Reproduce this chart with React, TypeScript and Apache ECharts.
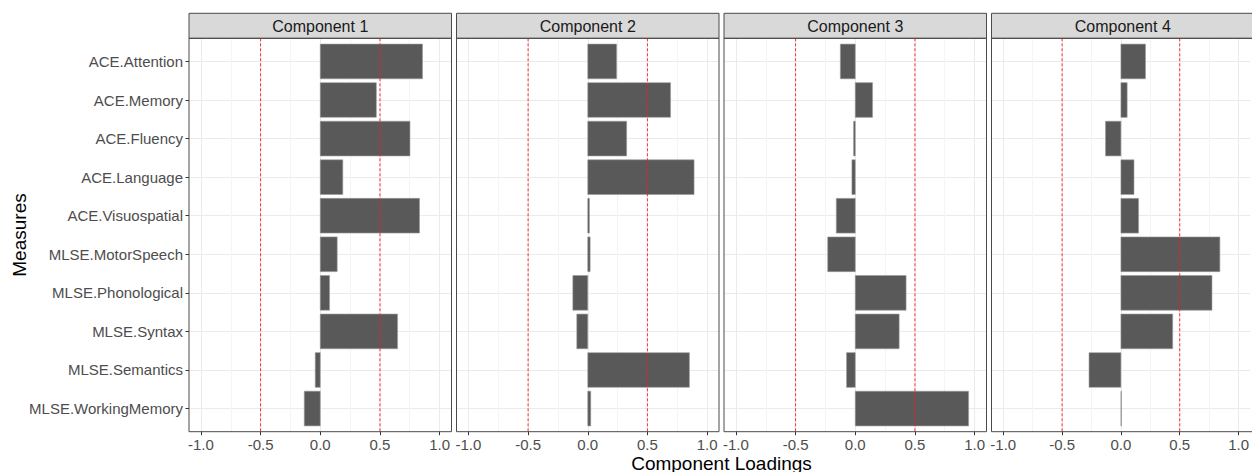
import React, { useEffect, useRef } from 'react';
import * as echarts from 'echarts';

const measures = [
  'ACE.Attention',
  'ACE.Memory',
  'ACE.Fluency',
  'ACE.Language',
  'ACE.Visuospatial',
  'MLSE.MotorSpeech',
  'MLSE.Phonological',
  'MLSE.Syntax',
  'MLSE.Semantics',
  'MLSE.WorkingMemory',
];
const components = ['Component 1', 'Component 2', 'Component 3', 'Component 4'];
const comp1 = [0.857, 0.47, 0.752, 0.189, 0.832, 0.142, 0.078, 0.648, -0.042, -0.134];
const comp2 = [0.242, 0.694, 0.326, 0.891, 0.014, 0.02, -0.125, -0.092, 0.852, 0.025];
const comp3 = [-0.125, 0.145, -0.014, -0.028, -0.159, -0.231, 0.426, 0.368, -0.073, 0.95];
const comp4 = [0.209, 0.053, -0.131, 0.111, 0.15, 0.841, 0.774, 0.44, -0.271, 0.004];
const loadings = [comp1, comp2, comp3, comp4];
const thresholds = [-0.5, 0.5];
const xTicks = [-1, -0.5, 0, 0.5, 1];
const xTitle = 'Component Loadings';
const yTitle = 'Measures';

const FONT = '"Liberation Sans", Arial, Helvetica, sans-serif';
const PANEL_LEFT = [189, 456.5, 724, 991.5];
const PANEL_W = 262.5;
const PLOT_TOP = 38.3;
const PLOT_H = 393.4;
const STRIP_TOP = 13.3;
const STRIP_H = 25;

export default function App() {
  const ref = useRef<HTMLDivElement>(null);

  useEffect(() => {
    if (!ref.current) return;
    const chart = echarts.init(ref.current, undefined, { renderer: 'svg' });
    const idx = measures.map((_, i) => i);
    const yMin = -0.6;
    const yMax = measures.length - 1 + 0.6;

    const grids = components.map((_, i) => ({
      left: PANEL_LEFT[i],
      top: PLOT_TOP,
      width: PANEL_W,
      height: PLOT_H,
      containLabel: false,
      show: true,
      backgroundColor: '#ffffff',
      borderWidth: 0,
    }));

    const xAxes = components.map((_, i) => ({
      type: 'value',
      gridIndex: i,
      position: 'bottom',
      min: -1.1,
      max: 1.1,
      axisLine: { show: false, onZero: false },
      axisTick: {
        show: true,
        length: 3.5,
        customValues: xTicks,
        lineStyle: { color: '#333333', width: 1 },
      },
      axisLabel: {
        customValues: xTicks,
        formatter: (v: number) => v.toFixed(1),
        color: '#4d4d4d',
        fontSize: 15,
        fontFamily: FONT,
        margin: 5,
      },
      splitLine: { show: true, lineStyle: { color: '#ebebeb', width: 1 } },
      minorTick: { show: false, splitNumber: 2 },
      minorSplitLine: { show: true, lineStyle: { color: '#f4f4f4', width: 1 } },
    }));

    const yAxes = components.map((_, i) => ({
      type: 'value',
      gridIndex: i,
      position: 'left',
      min: yMin,
      max: yMax,
      inverse: true,
      splitNumber: 10,
      axisLine: { show: false, onZero: false },
      axisTick: {
        show: i === 0,
        length: 3.5,
        customValues: idx,
        lineStyle: { color: '#333333', width: 1 },
      },
      axisLabel: {
        show: i === 0,
        customValues: idx,
        formatter: (v: number) => measures[v] ?? '',
        color: '#4d4d4d',
        fontSize: 15,
        fontFamily: FONT,
        margin: 6,
      },
      splitLine: { show: true, lineStyle: { color: '#ebebeb', width: 1 } },
    }));

    const barSeries = components.map((_, i) => ({
      type: 'custom',
      xAxisIndex: i,
      yAxisIndex: i,
      z: 2,
      encode: { x: 0, y: 1 },
      data: loadings[i].map((v, j) => [v, j]),
      renderItem: (params: any, api: any) => {
        const v = api.value(0);
        const j = api.value(1);
        const p0 = api.coord([0, j - 0.45]);
        const p1 = api.coord([v, j + 0.45]);
        return {
          type: 'rect',
          shape: {
            x: Math.min(p0[0], p1[0]),
            y: Math.min(p0[1], p1[1]),
            width: Math.max(Math.abs(p1[0] - p0[0]), 0.5),
            height: Math.abs(p1[1] - p0[1]),
          },
          style: { fill: '#595959', stroke: '#9c9c9c', lineWidth: 0.6 },
        };
      },
    }));

    const lineSeries = components.map((_, i) => ({
      type: 'custom',
      xAxisIndex: i,
      yAxisIndex: i,
      z: 3,
      encode: { x: 0, y: 1 },
      data: thresholds.map((t) => [t, 0]),
      renderItem: (params: any, api: any) => {
        const t = api.value(0);
        const a = api.coord([t, yMin]);
        const b = api.coord([t, yMax]);
        return {
          type: 'line',
          shape: { x1: a[0], y1: a[1], x2: b[0], y2: b[1] },
          style: { stroke: '#ff1a1a', lineWidth: 1, lineDash: [3, 2], opacity: 0.9 },
        };
      },
    }));

    const graphics: any[] = [];
    components.forEach((name, i) => {
      graphics.push({
        type: 'rect',
        z: 100,
        shape: { x: PANEL_LEFT[i], y: STRIP_TOP, width: PANEL_W, height: STRIP_H },
        style: { fill: '#d9d9d9', stroke: '#4a4a4a', lineWidth: 1 },
      });
      graphics.push({
        type: 'text',
        z: 101,
        x: PANEL_LEFT[i] + PANEL_W / 2,
        y: STRIP_TOP + STRIP_H / 2 + 0.5,
        style: {
          text: name,
          fill: '#1a1a1a',
          fontSize: 16,
          fontFamily: FONT,
          align: 'center',
          verticalAlign: 'middle',
        },
      });
      graphics.push({
        type: 'rect',
        z: 100,
        shape: { x: PANEL_LEFT[i], y: PLOT_TOP, width: PANEL_W, height: PLOT_H },
        style: { fill: 'none', stroke: '#4a4a4a', lineWidth: 1 },
      });
    });
    graphics.push({
      type: 'text',
      z: 101,
      x: (PANEL_LEFT[0] + PANEL_LEFT[3] + PANEL_W) / 2,
      y: 463,
      style: {
        text: xTitle,
        fill: '#000000',
        fontSize: 19,
        fontFamily: FONT,
        align: 'center',
        verticalAlign: 'middle',
      },
    });
    graphics.push({
      type: 'text',
      z: 101,
      x: 19,
      y: PLOT_TOP + PLOT_H / 2,
      rotation: Math.PI / 2,
      style: {
        text: yTitle,
        fill: '#000000',
        fontSize: 19,
        fontFamily: FONT,
        align: 'center',
        verticalAlign: 'middle',
      },
    });

    chart.setOption({
      animation: false,
      backgroundColor: '#ffffff',
      grid: grids,
      xAxis: xAxes,
      yAxis: yAxes,
      series: [...barSeries, ...lineSeries],
      graphic: { elements: graphics },
    });

    return () => {
      chart.dispose();
    };
  }, []);

  return (
    <div
      ref={ref}
      style={{ position: 'fixed', left: 0, top: 0, width: 1252, height: 472 }}
    />
  );
}
